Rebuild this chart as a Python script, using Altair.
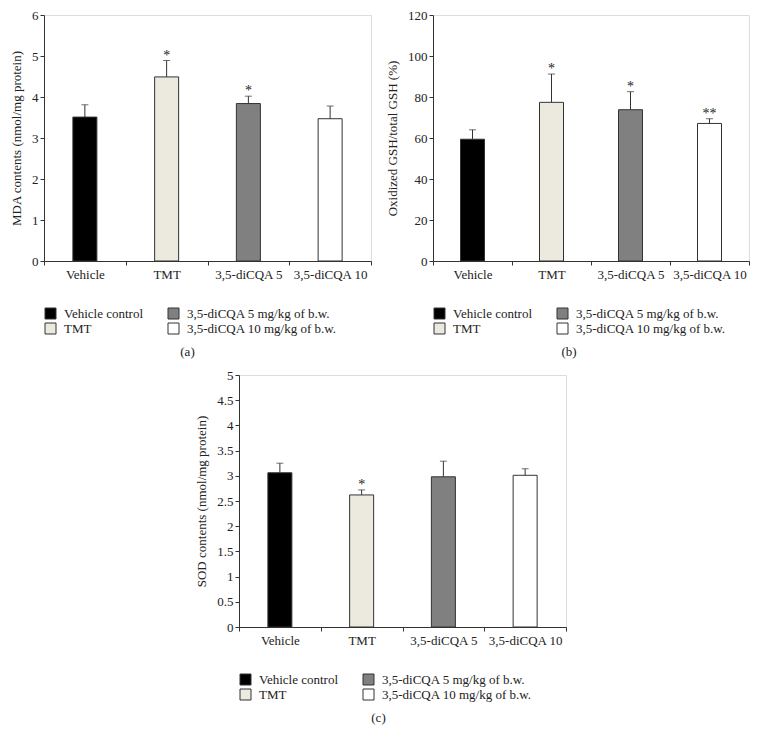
import altair as alt
import pandas as pd

categories = ["Vehicle", "TMT", "3,5-diCQA 5", "3,5-diCQA 10"]
groups = ["Vehicle control", "TMT", "3,5-diCQA 5 mg/kg of b.w.", "3,5-diCQA 10 mg/kg of b.w."]
legend_colors = ["#000000", "#ECE9DF", "#808080", "#FFFFFF"]

mda_mean = [3.51, 4.49, 3.84, 3.47]
mda_upper = [3.81, 4.89, 4.02, 3.78]
mda_sig = ["", "*", "*", ""]

gsh_mean = [59.4, 77.4, 73.8, 67.1]
gsh_upper = [64.0, 91.2, 82.6, 69.4]
gsh_sig = ["", "*", "*", "**"]

sod_mean = [3.06, 2.62, 2.98, 3.01]
sod_upper = [3.25, 2.72, 3.29, 3.14]
sod_sig = ["", "*", "", ""]

FONT = "Liberation Serif"
INK = "#222222"


def panel(mean, upper, sig, ytitle, ymax, ystep, w, h, caption, cap_dx):
    df = pd.DataFrame({"cat": categories, "group": groups, "mean": mean,
                       "upper": upper, "sig": sig})
    n = int(round(ymax / ystep))
    ticks = [round(i * ystep, 3) for i in range(n + 1)]
    xaxis = alt.Axis(labelAngle=0, tickBand="extent", tickSize=4,
                     labelPadding=3, labelFont=FONT, labelFontSize=13,
                     labelColor=INK, domainColor="#333", tickColor="#333")
    xscale = alt.Scale(paddingInner=0, paddingOuter=0)
    yaxis = alt.Axis(values=ticks, format="~f", grid=False, tickSize=4,
                     labelFont=FONT, labelFontSize=13, labelColor=INK,
                     labelOverlap=False,
                     titleFont=FONT, titleFontSize=13, titleFontWeight="normal",
                     titleColor=INK, titlePadding=8,
                     domainColor="#333", tickColor="#333")
    yscale = alt.Scale(domain=[0, ymax], nice=False)

    def X():
        return alt.X("cat:N", sort=categories, title=None, scale=xscale, axis=xaxis)

    def Y(field):
        return alt.Y(field, title=ytitle, scale=yscale, axis=yaxis)

    base = alt.Chart(df)
    bars = base.mark_bar(size=24, stroke="#333", strokeWidth=1).encode(
        x=X(), y=Y("mean:Q"),
        color=alt.Color("group:N", title=None,
                        scale=alt.Scale(domain=groups, range=legend_colors),
                        legend=alt.Legend(orient="none", legendX=0, legendY=h + 46,
                                          columns=2, columnPadding=22, rowPadding=0,
                                          symbolType="square", symbolSize=121,
                                          symbolStrokeColor="#333", symbolStrokeWidth=1,
                                          symbolOpacity=1, labelOffset=7,
                                          labelFont=FONT, labelFontSize=13,
                                          labelColor=INK, labelLimit=300, padding=0)))
    rule = base.mark_rule(color="#333", strokeWidth=1).encode(
        x=X(), y=Y("mean:Q"), y2="upper:Q")
    cap = base.mark_tick(color="#333", thickness=1, size=7, orient="horizontal").encode(
        x=X(), y=Y("upper:Q"))
    stars = base.mark_text(font=FONT, fontSize=14, color=INK, baseline="alphabetic",
                           dy=-1).encode(
        x=X(), y=Y("upper:Q"), text="sig:N")
    return alt.layer(bars, rule, cap, stars).properties(
        width=w, height=h,
        title=alt.TitleParams(caption, orient="bottom", font=FONT, fontSize=13,
                              fontWeight="normal", color=INK, offset=10, dx=cap_dx))


a = panel(mda_mean, mda_upper, mda_sig, "MDA contents (nmol/mg protein)", 6, 1,
          327, 246, "(a)", -20)
b = panel(gsh_mean, gsh_upper, gsh_sig, "Oxidized GSH/total GSH (%)", 120, 20,
          316, 246, "(b)", -22)
c = panel(sod_mean, sod_upper, sod_sig, "SOD contents (nmol/mg protein)", 5, 0.5,
          327, 252, "(c)", -24)

spacer = alt.Chart(pd.DataFrame({"v": [0]})).mark_point(opacity=0).properties(
    width=100, height=252, view=alt.ViewBackground(strokeOpacity=0))

top = alt.hconcat(a, b, spacing=14).resolve_scale(color="independent")
bottom = alt.hconcat(spacer, c, spacing=51).resolve_scale(color="independent")

chart = alt.vconcat(top, bottom, spacing=8).resolve_scale(
    color="independent"
).properties(
    padding={"left": 2, "top": 0, "right": 0, "bottom": 0}
).configure_view(stroke="#333", strokeWidth=1).configure(background="white")

chart.save("out.html", embed_options={"renderer": "svg", "actions": False})
